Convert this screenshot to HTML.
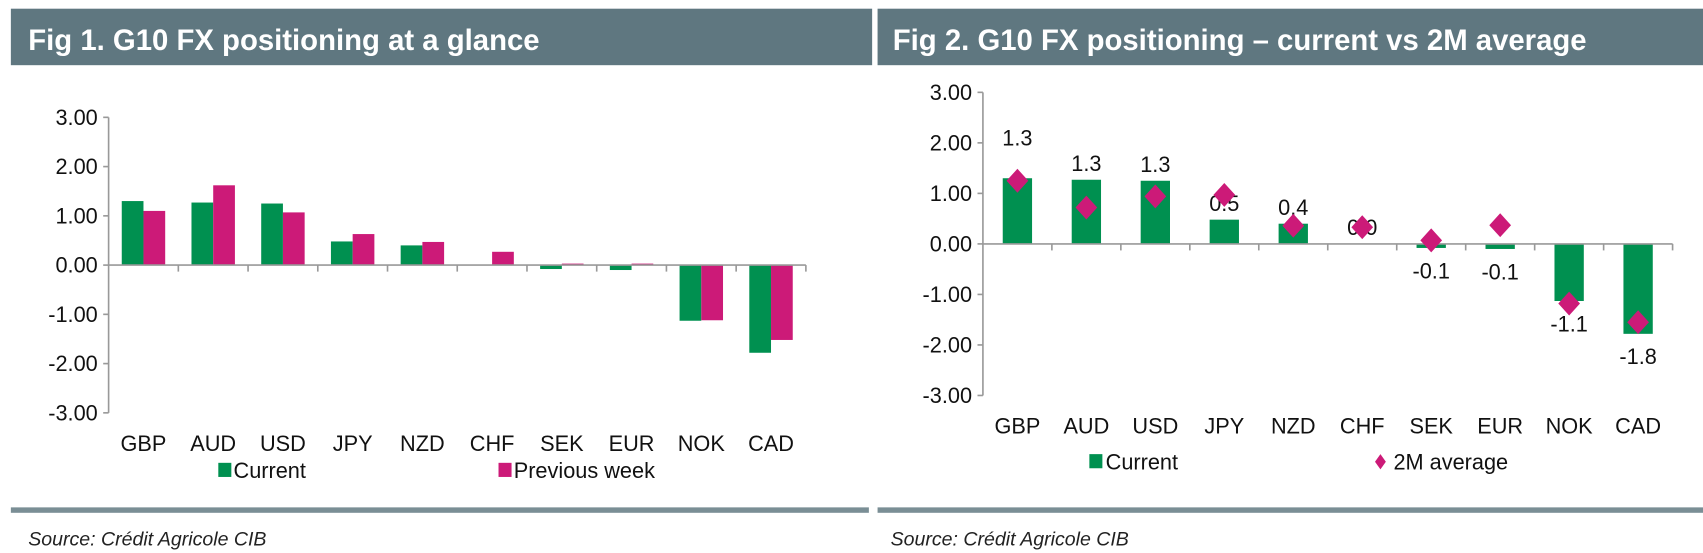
<!DOCTYPE html>
<html><head><meta charset="utf-8"><style>
html,body{margin:0;padding:0;background:#fff;}
svg{display:block;font-family:"Liberation Sans",Arial,sans-serif;}
</style></head><body>
<svg id="svg" width="1703" height="553" viewBox="0 0 1568 509" preserveAspectRatio="none" xmlns="http://www.w3.org/2000/svg">
<rect x="10" y="8" width="793" height="52" fill="#5f7780"/>
<text x="26" y="46" fill="#fff" font-size="27" font-weight="bold">Fig 1. G10 FX positioning at a glance</text>
<rect x="808" y="8" width="760" height="52" fill="#5f7780"/>
<text x="822" y="46" fill="#fff" font-size="27" font-weight="bold">Fig 2. G10 FX positioning – current vs 2M average</text>
<rect x="10" y="467" width="790" height="5" fill="#7a8e95"/>
<rect x="808" y="467" width="760" height="5" fill="#7a8e95"/>
<text x="26" y="502" font-size="18" font-style="italic" fill="#222">Source: Crédit Agricole CIB</text>
<text x="820" y="502" font-size="18" font-style="italic" fill="#222">Source: Crédit Agricole CIB</text>
<g id="c1"></g>
<g id="c2"></g>
<rect x="201" y="426" width="12" height="13" fill="#009050"/>
<text x="215" y="440" font-size="20" fill="#111">Current</text>
<rect x="459" y="426" width="12" height="13" fill="#cc1a78"/>
<text x="473" y="440" font-size="20" fill="#111">Previous week</text>
<rect x="1003" y="418" width="12" height="13" fill="#009050"/>
<text x="1018" y="432" font-size="20" fill="#111">Current</text>
<path d="M1271 418 L1276 425 L1271 432 L1266 425 Z" fill="#cc1a78"/>
<text x="1283" y="432" font-size="20" fill="#111">2M average</text>
</svg>
<script>
const categories = ["GBP","AUD","USD","JPY","NZD","CHF","SEK","EUR","NOK","CAD"];
const current = [1.30,1.27,1.25,0.48,0.40,0.0,-0.08,-0.10,-1.13,-1.78];
const previousWeek = [1.10,1.62,1.07,0.63,0.47,0.27,0.03,0.03,-1.12,-1.52];
const avg2m = [1.25,0.72,0.94,0.97,0.36,0.33,0.07,0.37,-1.18,-1.55];
const pointLabels = ["1.3","1.3","1.3","0.5","0.4","0.0","-0.1","-0.1","-1.1","-1.8"];
const yTicks = [3,2,1,0,-1,-2,-3];
const tickLabels = ["3.00","2.00","1.00","0.00","-1.00","-2.00","-3.00"];
const NS="http://www.w3.org/2000/svg";
function mk(parent,tag,attrs,txt){const e=document.createElementNS(NS,tag);for(const k in attrs)e.setAttribute(k,attrs[k]);if(txt!==undefined)e.textContent=txt;parent.appendChild(e);return e;}
function axes(g,x0,x1,yTop,yBot,prefix){
  const y=v=>yTop+(3-v)*(yBot-yTop)/6;
  const step=(x1-x0)/categories.length;
  const x=i=>x0+step*(i+0.5);
  let a=mk(g,'line',{x1:x0,y1:yTop,x2:x0,y2:yBot,stroke:'#999','stroke-width':1.5});
  
  yTicks.forEach((t,i)=>{
    let l=mk(g,'line',{x1:x0-5,y1:y(t),x2:x0,y2:y(t),stroke:'#999','stroke-width':1.5});
    
    let tx=mk(g,'text',{x:x0-10,y:y(t)+7,'text-anchor':'end','font-size':20,fill:'#111'},tickLabels[i]);
    
  });
  categories.forEach((c,i)=>{
    let tx=mk(g,'text',{x:x(i),y:yBot+35,'text-anchor':'middle','font-size':20,fill:'#111'},c);
    
  });
  return {x,y,step,x0,x1};
}
function finishAxis(g,s,prefix){
  let a=mk(g,'line',{x1:s.x0,y1:s.y(0),x2:s.x1,y2:s.y(0),stroke:'#999','stroke-width':1.5});
  
  for(let i=1;i<=categories.length;i++){
    let l=mk(g,'line',{x1:s.x0+s.step*i,y1:s.y(0),x2:s.x0+s.step*i,y2:s.y(0)+6,stroke:'#999','stroke-width':1.5});
    
  }
}
// Chart 1
const g1=document.getElementById('c1');
const s1=axes(g1,100,742,108,380,'fig1');
categories.forEach((c,i)=>{
  const bw=20;
  [[current,'#009050',-bw,'current'],[previousWeek,'#cc1a78',0,'prev']].forEach(([arr,col,off,nm])=>{
    const v=arr[i];const y0=s1.y(0),yv=s1.y(v);
    let r=mk(g1,'rect',{x:s1.x(i)+off,y:Math.min(y0,yv),width:bw,height:Math.abs(yv-y0),fill:col});
    
  });
});
finishAxis(g1,s1,'fig1');
// Chart 2
const g2=document.getElementById('c2');
const s2=axes(g2,905,1540,85,364,'fig2');
categories.forEach((c,i)=>{
  const bw=27;const v=current[i];const y0=s2.y(0),yv=s2.y(v);
  let r=mk(g2,'rect',{x:s2.x(i)-bw/2,y:Math.min(y0,yv),width:bw,height:Math.abs(yv-y0),fill:'#009050'});
  
});
finishAxis(g2,s2,'fig2');
categories.forEach((c,i)=>{
  const v=current[i];
  const ly = i===0 ? s2.y(v)-30 : (v>=0 ? s2.y(v)-8 : s2.y(v)+28);
  let t=mk(g2,'text',{x:s2.x(i),y:ly,'text-anchor':'middle','font-size':20,fill:'#111'},pointLabels[i]);
  
});
categories.forEach((c,i)=>{
  const cx=s2.x(i),cy=s2.y(avg2m[i]);
  let d=mk(g2,'path',{d:`M${cx} ${cy-11} L${cx+10} ${cy} L${cx} ${cy+11} L${cx-10} ${cy} Z`,fill:'#cc1a78'});
  
});
</script>
</body></html>
